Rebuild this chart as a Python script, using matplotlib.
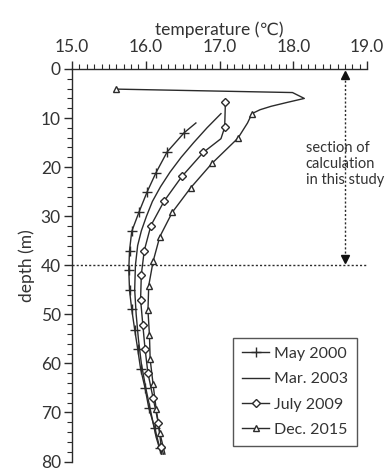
import matplotlib
matplotlib.use('Agg')
import matplotlib.pyplot as plt
from matplotlib.lines import Line2D
from matplotlib.ticker import MultipleLocator

plt.rcParams['font.family'] = ['Lato', 'DejaVu Sans']

# ---- data (temperature in deg C, depth in m) ----
may2000_depth = [11.0, 13.0, 16.9, 21.1, 25.0, 29.1, 33.1, 37.0, 40.9, 45.1, 49.0,
                 53.1, 57.0, 61.1, 65.0, 69.0, 73.1, 77.2, 78.5]
may2000_temp = [16.68, 16.52, 16.29, 16.14, 16.02, 15.91, 15.81, 15.78, 15.77, 15.78, 15.81,
                15.85, 15.89, 15.93, 15.99, 16.04, 16.12, 16.19, 16.22]
may2000_marked = [1, 2, 3, 4, 5, 6, 7, 8, 9, 10, 11, 12, 13, 14, 15, 16, 17]

mar2003_depth = [9.1, 12.0, 15.0, 18.0, 21.0, 24.0, 27.0, 30.0, 33.0, 36.0, 40.0, 45.0,
                 50.0, 55.0, 60.0, 65.0, 70.0, 75.0, 78.5]
mar2003_temp = [17.02, 16.83, 16.65, 16.48, 16.33, 16.20, 16.09, 16.01, 15.94, 15.89, 15.86,
                15.85, 15.87, 15.90, 15.94, 16.00, 16.07, 16.14, 16.21]

jul2009_depth = [6.8, 11.9, 14.2, 17.0, 21.9, 26.9, 31.9, 37.0, 41.9, 47.0, 52.1, 57.0,
                 62.0, 67.1, 72.1, 77.0, 78.5]
jul2009_temp = [17.08, 17.07, 17.02, 16.78, 16.49, 16.25, 16.07, 15.98, 15.94, 15.93, 15.96,
                15.99, 16.03, 16.10, 16.17, 16.21, 16.24]
jul2009_marked = [0, 1, 3, 4, 5, 6, 7, 8, 9, 10, 11, 12, 13, 14, 15]

dec2015_depth = [4.1, 4.8, 6.0, 6.8, 7.6, 8.3, 9.1, 11.0, 14.1, 19.2, 24.2, 29.2, 34.2,
                 39.2, 44.2, 49.2, 54.2, 59.2, 64.3, 69.2, 74.1, 78.5]
dec2015_temp = [15.60, 17.99, 18.15, 17.92, 17.70, 17.55, 17.44, 17.38, 17.25, 16.90, 16.61,
                16.36, 16.19, 16.10, 16.04, 16.03, 16.05, 16.06, 16.10, 16.14, 16.19, 16.26]
dec2015_marked = [0, 6, 8, 9, 10, 11, 12, 13, 14, 15, 16, 17, 18, 19, 20]

series_labels = ['May 2000', 'Mar. 2003', 'July 2009', 'Dec. 2015']

section_depth = 40.0
arrow_temp = 18.7
note_text = 'section of\ncalculation\nin this study'

# ---- figure ----
fig = plt.figure(figsize=(3.85, 4.70), dpi=100)
ax = fig.add_axes([72 / 385, 1 - 461.5 / 470, (367 - 72) / 385, (461.5 - 69) / 470])

lc = '#2b2b2b'
tc = '#333333'
lw = 1.0

def pick(vals, idx):
    return [vals[i] for i in idx]

ax.plot(may2000_temp, may2000_depth, color=lc, lw=lw, zorder=3)
ax.plot(pick(may2000_temp, may2000_marked), pick(may2000_depth, may2000_marked),
        ls='none', marker='+', ms=7, mew=1.0, color=lc, zorder=4)

ax.plot(mar2003_temp, mar2003_depth, color=lc, lw=lw, zorder=3)

ax.plot(jul2009_temp, jul2009_depth, color=lc, lw=lw, zorder=3)
ax.plot(pick(jul2009_temp, jul2009_marked), pick(jul2009_depth, jul2009_marked),
        ls='none', marker='D', ms=4.0, mew=1.0, mfc='white', mec=lc, color=lc, zorder=4)

ax.plot(dec2015_temp, dec2015_depth, color=lc, lw=lw, zorder=3)
ax.plot(pick(dec2015_temp, dec2015_marked), pick(dec2015_depth, dec2015_marked),
        ls='none', marker='^', ms=4.8, mew=1.0, mfc='white', mec=lc, color=lc, zorder=4)

# section of calculation
ax.axhline(section_depth, color=lc, lw=1.0, ls=(0, (1.5, 1.5)), zorder=2)
ax.plot([arrow_temp, arrow_temp], [1.5, section_depth - 1.5], color=lc, lw=1.0,
        ls=(0, (1.5, 1.5)), zorder=2)
ax.plot([arrow_temp], [1.3], ls='none', marker='^', ms=6, color='#111111', zorder=5,
        clip_on=False)
ax.plot([arrow_temp], [section_depth - 1.3], ls='none', marker='v', ms=6, color='#111111',
        zorder=5)
ax.text(18.17, 19.4, note_text, fontsize=10.5, color=tc, ha='left', va='center',
        linespacing=1.2, zorder=6)

# axes
ax.set_xlim(15.0, 19.0)
ax.set_ylim(80, 0)
ax.xaxis.tick_top()
ax.xaxis.set_label_position('top')
ax.xaxis.set_minor_locator(MultipleLocator(0.1))
ax.yaxis.set_major_locator(MultipleLocator(10))
ax.yaxis.set_minor_locator(MultipleLocator(2))
ax.set_xticks([15, 16, 17, 18, 19])
ax.set_xticklabels(['15.0', '16.0', '17.0', '18.0', '19.0'])
ax.spines['right'].set_visible(False)
ax.spines['bottom'].set_visible(False)
for s in ['top', 'left']:
    ax.spines[s].set_color(lc)
    ax.spines[s].set_linewidth(1.0)
ax.tick_params(axis='both', which='major', direction='out', length=6, width=1.0,
               color=lc, labelsize=12.5, labelcolor=tc, pad=2)
ax.tick_params(axis='x', which='major', pad=4)
ax.tick_params(axis='both', which='minor', direction='out', length=3.5, width=0.8, color=lc)
ax.set_xlabel('temperature (℃)', fontsize=12.5, color=tc, labelpad=3)
ax.set_ylabel('depth (m)', fontsize=12.5, color=tc, labelpad=4)

handles = [
    Line2D([], [], color=lc, lw=lw, marker='+', ms=7, mew=1.0),
    Line2D([], [], color=lc, lw=lw),
    Line2D([], [], color=lc, lw=lw, marker='D', ms=4.0, mew=1.0, mfc='white', mec=lc),
    Line2D([], [], color=lc, lw=lw, marker='^', ms=4.8, mew=1.0, mfc='white', mec=lc),
]
leg = ax.legend(handles, series_labels, loc='lower right', bbox_to_anchor=(0.965, 0.04),
                fontsize=11.5, frameon=True, fancybox=False, edgecolor=lc,
                handlelength=1.7, handletextpad=0.3, labelspacing=0.7, borderpad=0.55,
                borderaxespad=0.0, numpoints=1)
leg.get_frame().set_linewidth(1.0)
for t in leg.get_texts():
    t.set_color(tc)

fig.savefig('out.png', dpi=100, facecolor='white')
